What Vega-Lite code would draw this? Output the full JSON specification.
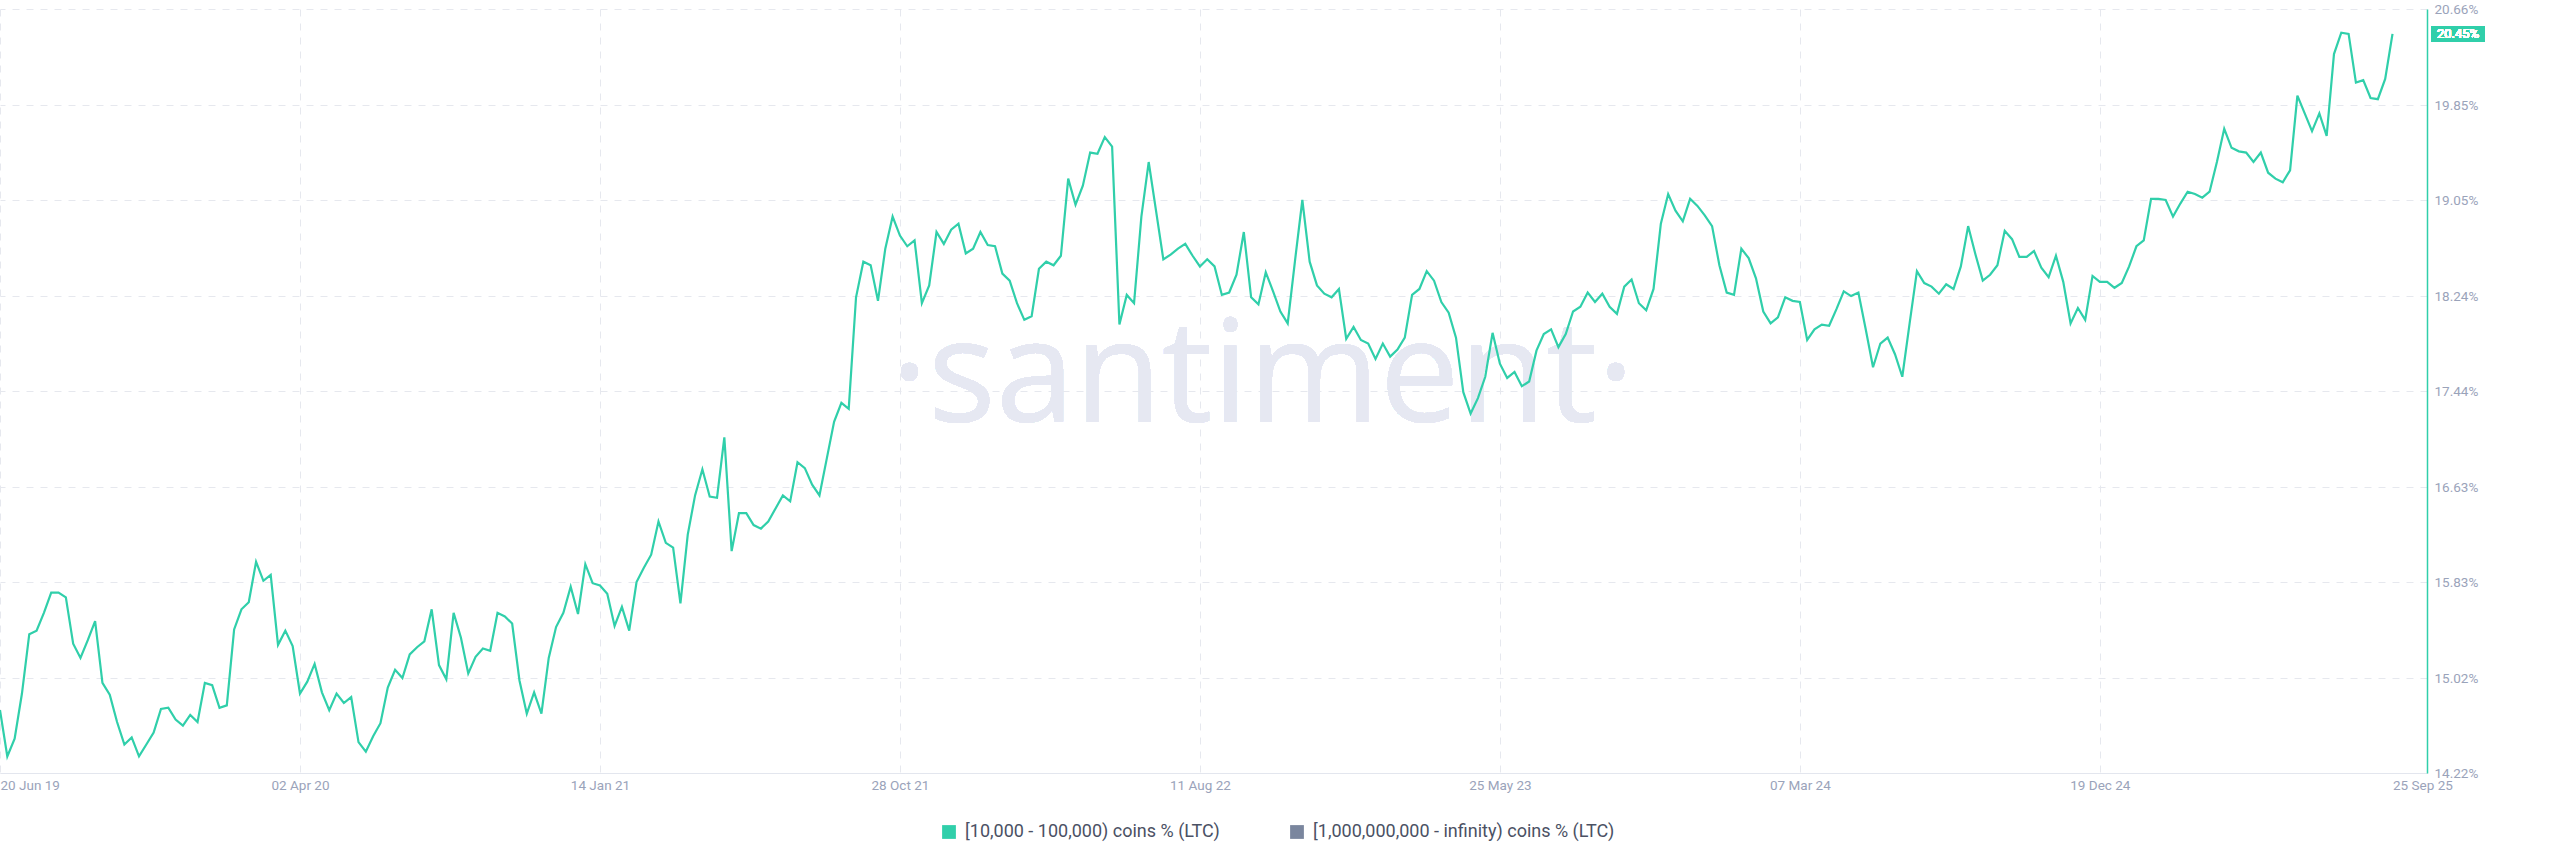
{
"$schema": "https://vega.github.io/schema/vega-lite/v6.json",
"width": 2427, "height": 764,
"autosize": {"type": "none"},
"padding": {"left": 0, "top": 9, "right": 133, "bottom": 94},
"background": "white",
"config": {"view": {"stroke": null}, "font": "Roboto"},
"data": {"values": [
{"date":"2019-06-20","value":14.75},{"date":"2019-06-27","value":14.36},{"date":"2019-07-04","value":14.51},{"date":"2019-07-11","value":14.89},{"date":"2019-07-18","value":15.39},{"date":"2019-07-25","value":15.42},{"date":"2019-08-01","value":15.57},{"date":"2019-08-08","value":15.74},{"date":"2019-08-15","value":15.74},{"date":"2019-08-22","value":15.70},{"date":"2019-08-29","value":15.31},{"date":"2019-09-05","value":15.19},{"date":"2019-09-12","value":15.34},{"date":"2019-09-19","value":15.50},{"date":"2019-09-26","value":14.98},{"date":"2019-10-03","value":14.88},{"date":"2019-10-10","value":14.65},{"date":"2019-10-17","value":14.46},{"date":"2019-10-24","value":14.52},{"date":"2019-10-31","value":14.36},{"date":"2019-11-07","value":14.46},{"date":"2019-11-14","value":14.56},{"date":"2019-11-21","value":14.76},{"date":"2019-11-28","value":14.77},{"date":"2019-12-05","value":14.67},{"date":"2019-12-12","value":14.62},{"date":"2019-12-19","value":14.71},{"date":"2019-12-26","value":14.65},
{"date":"2020-01-02","value":14.98},{"date":"2020-01-09","value":14.96},{"date":"2020-01-16","value":14.77},{"date":"2020-01-23","value":14.79},{"date":"2020-01-30","value":15.43},{"date":"2020-02-06","value":15.60},{"date":"2020-02-13","value":15.66},{"date":"2020-02-20","value":16.00},{"date":"2020-02-27","value":15.84},{"date":"2020-03-05","value":15.89},{"date":"2020-03-12","value":15.30},{"date":"2020-03-19","value":15.42},{"date":"2020-03-26","value":15.29},{"date":"2020-04-02","value":14.89},{"date":"2020-04-09","value":14.99},{"date":"2020-04-16","value":15.14},{"date":"2020-04-23","value":14.90},{"date":"2020-04-30","value":14.75},{"date":"2020-05-07","value":14.89},{"date":"2020-05-14","value":14.81},{"date":"2020-05-21","value":14.86},{"date":"2020-05-28","value":14.48},{"date":"2020-06-04","value":14.40},{"date":"2020-06-11","value":14.53},{"date":"2020-06-18","value":14.64},{"date":"2020-06-25","value":14.94},{"date":"2020-07-02","value":15.09},{"date":"2020-07-09","value":15.02},{"date":"2020-07-16","value":15.22},{"date":"2020-07-23","value":15.28},{"date":"2020-07-30","value":15.33},{"date":"2020-08-06","value":15.60},{"date":"2020-08-13","value":15.13},{"date":"2020-08-20","value":15.01},{"date":"2020-08-27","value":15.57},{"date":"2020-09-03","value":15.36},{"date":"2020-09-10","value":15.06},{"date":"2020-09-17","value":15.20},{"date":"2020-09-24","value":15.27},{"date":"2020-10-01","value":15.25},{"date":"2020-10-08","value":15.57},{"date":"2020-10-15","value":15.54},{"date":"2020-10-22","value":15.48},{"date":"2020-10-29","value":15.00},{"date":"2020-11-05","value":14.72},{"date":"2020-11-12","value":14.90},{"date":"2020-11-19","value":14.72},{"date":"2020-11-26","value":15.19},{"date":"2020-12-03","value":15.45},{"date":"2020-12-10","value":15.57},{"date":"2020-12-17","value":15.79},{"date":"2020-12-24","value":15.56},{"date":"2020-12-31","value":15.98},
{"date":"2021-01-07","value":15.82},{"date":"2021-01-14","value":15.80},{"date":"2021-01-21","value":15.73},{"date":"2021-01-28","value":15.46},{"date":"2021-02-04","value":15.62},{"date":"2021-02-11","value":15.42},{"date":"2021-02-18","value":15.83},{"date":"2021-02-25","value":15.95},{"date":"2021-03-04","value":16.06},{"date":"2021-03-11","value":16.34},{"date":"2021-03-18","value":16.16},{"date":"2021-03-25","value":16.12},{"date":"2021-04-01","value":15.65},{"date":"2021-04-08","value":16.23},{"date":"2021-04-15","value":16.56},{"date":"2021-04-22","value":16.78},{"date":"2021-04-29","value":16.55},{"date":"2021-05-06","value":16.54},{"date":"2021-05-13","value":17.05},{"date":"2021-05-20","value":16.09},{"date":"2021-05-27","value":16.41},{"date":"2021-06-03","value":16.41},{"date":"2021-06-10","value":16.31},{"date":"2021-06-17","value":16.28},{"date":"2021-06-24","value":16.34},{"date":"2021-07-01","value":16.45},{"date":"2021-07-08","value":16.56},{"date":"2021-07-15","value":16.51},{"date":"2021-07-22","value":16.84},{"date":"2021-07-29","value":16.79},{"date":"2021-08-05","value":16.65},{"date":"2021-08-12","value":16.56},{"date":"2021-08-19","value":16.87},{"date":"2021-08-26","value":17.18},{"date":"2021-09-02","value":17.34},{"date":"2021-09-09","value":17.29},{"date":"2021-09-16","value":18.23},{"date":"2021-09-23","value":18.53},{"date":"2021-09-30","value":18.50},{"date":"2021-10-07","value":18.20},{"date":"2021-10-14","value":18.64},{"date":"2021-10-21","value":18.91},{"date":"2021-10-28","value":18.75},{"date":"2021-11-04","value":18.66},{"date":"2021-11-11","value":18.71},{"date":"2021-11-18","value":18.18},{"date":"2021-11-25","value":18.33},{"date":"2021-12-02","value":18.78},{"date":"2021-12-09","value":18.68},{"date":"2021-12-16","value":18.80},{"date":"2021-12-23","value":18.85},{"date":"2021-12-30","value":18.60},
{"date":"2022-01-06","value":18.64},{"date":"2022-01-13","value":18.78},{"date":"2022-01-20","value":18.67},{"date":"2022-01-27","value":18.66},{"date":"2022-02-03","value":18.43},{"date":"2022-02-10","value":18.37},{"date":"2022-02-17","value":18.18},{"date":"2022-02-24","value":18.04},{"date":"2022-03-03","value":18.07},{"date":"2022-03-10","value":18.47},{"date":"2022-03-17","value":18.53},{"date":"2022-03-24","value":18.50},{"date":"2022-03-31","value":18.58},{"date":"2022-04-07","value":19.23},{"date":"2022-04-14","value":19.01},{"date":"2022-04-21","value":19.17},{"date":"2022-04-28","value":19.45},{"date":"2022-05-05","value":19.44},{"date":"2022-05-12","value":19.58},{"date":"2022-05-19","value":19.50},{"date":"2022-05-26","value":18.00},{"date":"2022-06-02","value":18.25},{"date":"2022-06-09","value":18.18},{"date":"2022-06-16","value":18.91},{"date":"2022-06-23","value":19.37},{"date":"2022-06-30","value":18.96},{"date":"2022-07-07","value":18.55},{"date":"2022-07-14","value":18.59},{"date":"2022-07-21","value":18.64},{"date":"2022-07-28","value":18.68},{"date":"2022-08-04","value":18.58},{"date":"2022-08-11","value":18.49},{"date":"2022-08-18","value":18.55},{"date":"2022-08-25","value":18.49},{"date":"2022-09-01","value":18.25},{"date":"2022-09-08","value":18.27},{"date":"2022-09-15","value":18.42},{"date":"2022-09-22","value":18.78},{"date":"2022-09-29","value":18.23},{"date":"2022-10-06","value":18.17},{"date":"2022-10-13","value":18.44},{"date":"2022-10-20","value":18.28},{"date":"2022-10-27","value":18.11},{"date":"2022-11-03","value":18.01},{"date":"2022-11-10","value":18.54},{"date":"2022-11-17","value":19.05},{"date":"2022-11-24","value":18.53},{"date":"2022-12-01","value":18.33},{"date":"2022-12-08","value":18.26},{"date":"2022-12-15","value":18.23},{"date":"2022-12-22","value":18.30},{"date":"2022-12-29","value":17.88},
{"date":"2023-01-05","value":17.98},{"date":"2023-01-12","value":17.87},{"date":"2023-01-19","value":17.84},{"date":"2023-01-26","value":17.71},{"date":"2023-02-02","value":17.84},{"date":"2023-02-09","value":17.73},{"date":"2023-02-16","value":17.79},{"date":"2023-02-23","value":17.89},{"date":"2023-03-02","value":18.25},{"date":"2023-03-09","value":18.30},{"date":"2023-03-16","value":18.45},{"date":"2023-03-23","value":18.37},{"date":"2023-03-30","value":18.19},{"date":"2023-04-06","value":18.10},{"date":"2023-04-13","value":17.89},{"date":"2023-04-20","value":17.43},{"date":"2023-04-27","value":17.25},{"date":"2023-05-04","value":17.38},{"date":"2023-05-11","value":17.56},{"date":"2023-05-18","value":17.93},{"date":"2023-05-25","value":17.67},{"date":"2023-06-01","value":17.55},{"date":"2023-06-08","value":17.60},{"date":"2023-06-15","value":17.48},{"date":"2023-06-22","value":17.52},{"date":"2023-06-29","value":17.78},{"date":"2023-07-06","value":17.92},{"date":"2023-07-13","value":17.96},{"date":"2023-07-20","value":17.81},{"date":"2023-07-27","value":17.92},{"date":"2023-08-03","value":18.11},{"date":"2023-08-10","value":18.15},{"date":"2023-08-17","value":18.27},{"date":"2023-08-24","value":18.19},{"date":"2023-08-31","value":18.26},{"date":"2023-09-07","value":18.15},{"date":"2023-09-14","value":18.09},{"date":"2023-09-21","value":18.32},{"date":"2023-09-28","value":18.38},{"date":"2023-10-05","value":18.18},{"date":"2023-10-12","value":18.12},{"date":"2023-10-19","value":18.30},{"date":"2023-10-26","value":18.85},{"date":"2023-11-02","value":19.10},{"date":"2023-11-09","value":18.96},{"date":"2023-11-16","value":18.87},{"date":"2023-11-23","value":19.06},{"date":"2023-11-30","value":19.00},{"date":"2023-12-07","value":18.92},{"date":"2023-12-14","value":18.83},{"date":"2023-12-21","value":18.50},{"date":"2023-12-28","value":18.27},
{"date":"2024-01-04","value":18.25},{"date":"2024-01-11","value":18.64},{"date":"2024-01-18","value":18.56},{"date":"2024-01-25","value":18.39},{"date":"2024-02-01","value":18.11},{"date":"2024-02-08","value":18.01},{"date":"2024-02-15","value":18.06},{"date":"2024-02-22","value":18.23},{"date":"2024-02-29","value":18.20},{"date":"2024-03-07","value":18.19},{"date":"2024-03-14","value":17.87},{"date":"2024-03-21","value":17.96},{"date":"2024-03-28","value":18.00},{"date":"2024-04-04","value":17.99},{"date":"2024-04-11","value":18.13},{"date":"2024-04-18","value":18.28},{"date":"2024-04-25","value":18.24},{"date":"2024-05-02","value":18.27},{"date":"2024-05-09","value":17.96},{"date":"2024-05-16","value":17.64},{"date":"2024-05-23","value":17.84},{"date":"2024-05-30","value":17.89},{"date":"2024-06-06","value":17.75},{"date":"2024-06-13","value":17.56},{"date":"2024-06-20","value":18.01},{"date":"2024-06-27","value":18.45},{"date":"2024-07-04","value":18.35},{"date":"2024-07-11","value":18.32},{"date":"2024-07-18","value":18.26},{"date":"2024-07-25","value":18.34},{"date":"2024-08-01","value":18.30},{"date":"2024-08-08","value":18.49},{"date":"2024-08-15","value":18.83},{"date":"2024-08-22","value":18.59},{"date":"2024-08-29","value":18.37},{"date":"2024-09-05","value":18.42},{"date":"2024-09-12","value":18.50},{"date":"2024-09-19","value":18.79},{"date":"2024-09-26","value":18.72},{"date":"2024-10-03","value":18.57},{"date":"2024-10-10","value":18.57},{"date":"2024-10-17","value":18.62},{"date":"2024-10-24","value":18.48},{"date":"2024-10-31","value":18.40},{"date":"2024-11-07","value":18.58},{"date":"2024-11-14","value":18.36},{"date":"2024-11-21","value":18.01},{"date":"2024-11-28","value":18.14},{"date":"2024-12-05","value":18.04},{"date":"2024-12-12","value":18.41},{"date":"2024-12-19","value":18.36},{"date":"2024-12-26","value":18.36},
{"date":"2025-01-02","value":18.31},{"date":"2025-01-09","value":18.35},{"date":"2025-01-16","value":18.49},{"date":"2025-01-23","value":18.66},{"date":"2025-01-30","value":18.71},{"date":"2025-02-06","value":19.06},{"date":"2025-02-13","value":19.06},{"date":"2025-02-20","value":19.05},{"date":"2025-02-27","value":18.91},{"date":"2025-03-06","value":19.02},{"date":"2025-03-13","value":19.12},{"date":"2025-03-20","value":19.10},{"date":"2025-03-27","value":19.07},{"date":"2025-04-03","value":19.12},{"date":"2025-04-10","value":19.37},{"date":"2025-04-17","value":19.65},{"date":"2025-04-24","value":19.49},{"date":"2025-05-01","value":19.46},{"date":"2025-05-08","value":19.45},{"date":"2025-05-15","value":19.37},{"date":"2025-05-22","value":19.45},{"date":"2025-05-29","value":19.28},{"date":"2025-06-05","value":19.23},{"date":"2025-06-12","value":19.20},{"date":"2025-06-19","value":19.30},{"date":"2025-06-26","value":19.93},{"date":"2025-07-03","value":19.78},{"date":"2025-07-10","value":19.63},{"date":"2025-07-17","value":19.78},{"date":"2025-07-24","value":19.59},{"date":"2025-07-31","value":20.28},{"date":"2025-08-07","value":20.46},{"date":"2025-08-14","value":20.45},{"date":"2025-08-21","value":20.04},{"date":"2025-08-28","value":20.06},{"date":"2025-09-04","value":19.91},{"date":"2025-09-11","value":19.90},{"date":"2025-09-18","value":20.07},{"date":"2025-09-25","value":20.45}
]},
"layer": [
{"mark": {"type": "text", "font": "Open Sans", "fontSize": 142, "color": "#e6e8f2", "align": "center", "baseline": "alphabetic"},
 "encoding": {
  "x": {"datum": {"year": 2022, "month": 10, "date": 10, "utc": true}, "type": "temporal", "scale": {"type": "utc", "domain": [{"year": 2019, "month": 6, "date": 20, "utc": true}, {"year": 2025, "month": 10, "date": 28, "utc": true}]}},
  "y": {"datum": 17.18, "type": "quantitative", "scale": {"domain": [14.22, 20.66], "nice": false, "zero": false}},
  "text": {"value": "·santiment·"}}},
{"mark": {"type": "line", "strokeWidth": 2.2},
 "encoding": {
  "x": {"field": "date", "type": "temporal",
   "scale": {"type": "utc", "domain": [{"year": 2019, "month": 6, "date": 20, "utc": true}, {"year": 2025, "month": 10, "date": 28, "utc": true}]},
   "axis": {"title": null, "orient": "bottom",
    "values": [{"year": 2019, "month": 6, "date": 20, "utc": true}, {"year": 2020, "month": 4, "date": 2, "utc": true}, {"year": 2021, "month": 1, "date": 14, "utc": true}, {"year": 2021, "month": 10, "date": 28, "utc": true}, {"year": 2022, "month": 8, "date": 11, "utc": true}, {"year": 2023, "month": 5, "date": 25, "utc": true}, {"year": 2024, "month": 3, "date": 7, "utc": true}, {"year": 2024, "month": 12, "date": 19, "utc": true}, {"year": 2025, "month": 9, "date": 25, "utc": true}],
    "labelExpr": "utcFormat(datum.value, '%d %b %y')",
    "labelAlign": {"condition": {"test": "datum.value <= utc(2019,5,21) || datum.value >= utc(2025,8,1)", "value": "left"}, "value": "center"},
    "labelFont": "Roboto", "labelFontSize": 13.5, "labelColor": "#9aa3ba", "labelPadding": 5,
    "ticks": false, "domainColor": "#e3e6ee", "domainWidth": 1,
    "grid": true, "gridColor": "#e6e8ee", "gridDash": [7, 7], "gridWidth": 1,
    "gridOpacity": {"condition": {"test": "datum.value >= utc(2025,8,1)", "value": 0}, "value": 1},
    "labelOverlap": false, "labelBound": false}},
  "y": {"field": "value", "type": "quantitative",
   "scale": {"domain": [14.22, 20.66], "nice": false, "zero": false},
   "axis": {"title": null, "orient": "right",
    "values": [14.22, 15.02, 15.83, 16.63, 17.44, 18.24, 19.05, 19.85, 20.66],
    "labelExpr": "format(datum.value, '.2f') + '%'",
    "labelFont": "Roboto", "labelFontSize": 13.5, "labelColor": "#9aa3ba", "labelPadding": 7,
    "ticks": false, "domainColor": "#30cfaa", "domainWidth": 1.5,
    "grid": true, "gridColor": "#e6e8ee", "gridDash": [7, 7], "gridWidth": 1,
    "labelOverlap": false, "labelBound": false}},
  "color": {"datum": "[10,000 - 100,000) coins % (LTC)",
   "scale": {"domain": ["[10,000 - 100,000) coins % (LTC)", "[1,000,000,000 - infinity) coins % (LTC)"], "range": ["#30cfaa", "#7a869e"]},
   "legend": {"title": null, "orient": "none", "legendX": 940, "legendY": 814, "direction": "horizontal",
    "symbolType": "square", "symbolSize": 190, "labelFont": "Roboto", "labelFontSize": 18, "labelColor": "#4b5164",
    "labelLimit": 0, "columnPadding": 68, "labelOffset": 7,
    "encode": {"symbols": {"update": {"fill": {"scale": "color", "field": "value"}, "fillOpacity": {"value": 1}, "strokeWidth": {"value": 0}}}}}}}},
{"mark": {"type": "rect", "color": "#30cfaa", "xOffset": 4, "x2Offset": 58, "yOffset": -8, "y2Offset": 8},
 "encoding": {
  "x": {"datum": {"year": 2025, "month": 10, "date": 28, "utc": true}, "type": "temporal", "scale": {"type": "utc", "domain": [{"year": 2019, "month": 6, "date": 20, "utc": true}, {"year": 2025, "month": 10, "date": 28, "utc": true}]}},
  "x2": {"datum": {"year": 2025, "month": 10, "date": 28, "utc": true}},
  "y": {"datum": 20.45, "type": "quantitative", "scale": {"domain": [14.22, 20.66], "nice": false, "zero": false}},
  "y2": {"datum": 20.45}}},
{"mark": {"type": "text", "color": "white", "font": "Roboto", "fontSize": 13, "align": "center", "baseline": "middle", "dx": 31},
 "encoding": {
  "x": {"datum": {"year": 2025, "month": 10, "date": 28, "utc": true}, "type": "temporal", "scale": {"type": "utc", "domain": [{"year": 2019, "month": 6, "date": 20, "utc": true}, {"year": 2025, "month": 10, "date": 28, "utc": true}]}},
  "y": {"datum": 20.45, "type": "quantitative", "scale": {"domain": [14.22, 20.66], "nice": false, "zero": false}},
  "text": {"value": "20.45%"}}}
]
}
